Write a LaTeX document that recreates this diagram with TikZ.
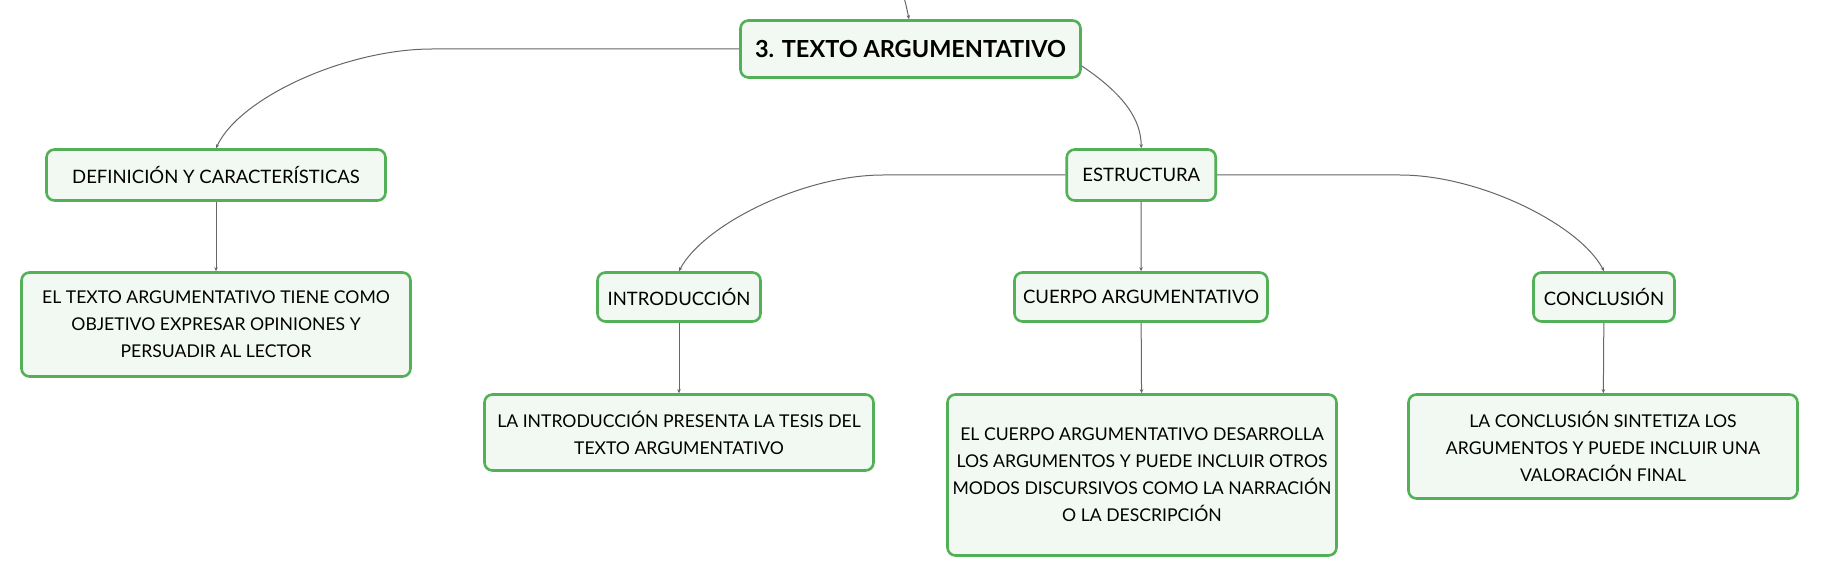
\documentclass[tikz,border=0pt]{standalone}
\usepackage{fontspec}
\setmainfont{Lato}
\usetikzlibrary{arrows.meta}
\definecolor{boxgreen}{HTML}{52B156}
\definecolor{boxfill}{HTML}{F2F9F2}
\definecolor{linegray}{HTML}{666666}
\begin{document}
\begin{tikzpicture}[x=1pt,y=-1pt,
  box/.style={draw=boxgreen, line width=2.6pt, fill=boxfill, rounded corners=8pt,
    align=center, inner sep=0pt, font=\fontsize{17.6}{27}\selectfont},
  labelbox/.style={box, font=\fontsize{18.5}{27}\selectfont},
  titlebox/.style={box, font=\fontsize{23.5}{30}\selectfont\bfseries},
  conn/.style={draw=linegray, line width=1pt, -{Stealth[length=4pt,width=3.5pt]}}]
\useasboundingbox (0,0) rectangle (1821,577);
% nodes
\node[titlebox, minimum width=340, minimum height=57] (top) at (910.5,49) {3. TEXTO ARGUMENTATIVO};
\node[labelbox, minimum width=339, minimum height=51] (def) at (216,175) {DEFINICIÓN Y CARACTERÍSTICAS};
\node[box, minimum width=389, minimum height=104] (deftxt) at (216,324.5) {EL TEXTO ARGUMENTATIVO TIENE COMO\\OBJETIVO EXPRESAR OPINIONES Y\\PERSUADIR AL LECTOR};
\node[labelbox, minimum width=149, minimum height=51] (estr) at (1141.25,175) {ESTRUCTURA};
\node[labelbox, minimum width=163, minimum height=49] (intro) at (679,297) {INTRODUCCIÓN};
\node[box, minimum width=389, minimum height=76] (introtxt) at (679,432.5) {LA INTRODUCCIÓN PRESENTA LA TESIS DEL\\TEXTO ARGUMENTATIVO};
\node[labelbox, minimum width=253, minimum height=49] (cuerpo) at (1141,297) {CUERPO ARGUMENTATIVO};
\node[box, minimum width=389, minimum height=161] (cuerpotxt) at (1142,475) {EL CUERPO ARGUMENTATIVO DESARROLLA\\LOS ARGUMENTOS Y PUEDE INCLUIR OTROS\\MODOS DISCURSIVOS COMO LA NARRACIÓN\\O LA DESCRIPCIÓN};
\node[labelbox, minimum width=141, minimum height=49] (concl) at (1604,297) {CONCLUSIÓN};
\node[box, minimum width=389, minimum height=104] (concltxt) at (1603,446.5) {LA CONCLUSIÓN SINTETIZA LOS\\ARGUMENTOS Y PUEDE INCLUIR UNA\\VALORACIÓN FINAL};
% connectors
\coordinate (src) at (900,-12);
\draw[conn] (src) .. controls (905,0) .. ([xshift=-1.5pt]top.north);
\draw[conn] (top.west) -- (432,49) .. controls (347,49) and (240,97) .. (def.north);
\draw[conn] ([yshift=-17pt]top.east) .. controls (1125,95) and (1141,120) .. (estr.north);
\draw[conn] (def) -- (deftxt);
\draw[conn] (estr.west) -- (883,175) .. controls (803,175) and (703,225) .. (intro.north);
\draw[conn] (estr) -- (cuerpo);
\draw[conn] (estr.east) -- (1400,175) .. controls (1480,175) and (1580,225) .. (concl.north);
\draw[conn] (intro) -- (introtxt);
\draw[conn] (cuerpo) -- (cuerpotxt);
\draw[conn] (concl) -- (concltxt);
\end{tikzpicture}
\end{document}
